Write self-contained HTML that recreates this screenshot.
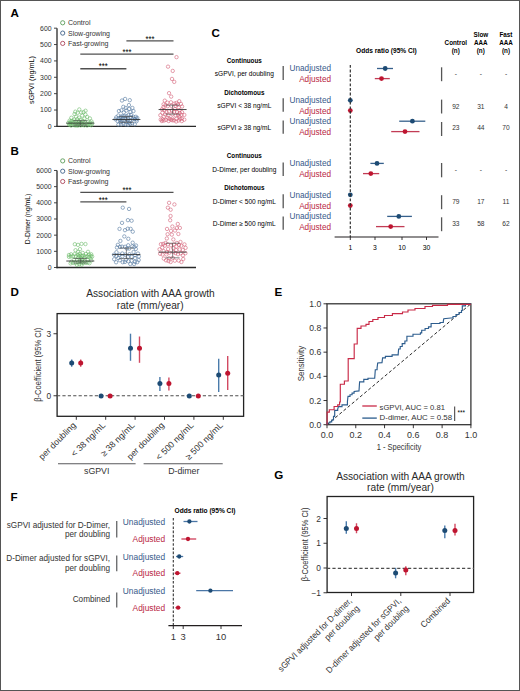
<!DOCTYPE html>
<html><head><meta charset="utf-8"><style>
html,body{margin:0;padding:0;background:#fff;width:520px;height:691px;overflow:hidden}
svg{display:block}
text{font-family:"Liberation Sans",sans-serif}
</style></head><body>
<svg width="520" height="691" viewBox="0 0 520 691">
<rect x="0.5" y="0.5" width="519" height="690" fill="none" stroke="#555" stroke-width="1"/>
<text x="10.60" y="16.70" font-size="11.6" text-anchor="start" font-weight="bold" fill="#000">A</text>
<line x1="57.00" y1="28.18" x2="57.00" y2="127.10" stroke="#383838" stroke-width="1.4"/>
<line x1="56.30" y1="126.40" x2="196.00" y2="126.40" stroke="#2a2a2a" stroke-width="1.4"/>
<line x1="54.00" y1="126.40" x2="57.00" y2="126.40" stroke="#333" stroke-width="0.9"/>
<text x="51.60" y="128.80" font-size="6.9" text-anchor="end" fill="#333">0</text>
<line x1="54.00" y1="110.03" x2="57.00" y2="110.03" stroke="#333" stroke-width="0.9"/>
<text x="51.60" y="112.43" font-size="6.9" text-anchor="end" fill="#333">100</text>
<line x1="54.00" y1="93.66" x2="57.00" y2="93.66" stroke="#333" stroke-width="0.9"/>
<text x="51.60" y="96.06" font-size="6.9" text-anchor="end" fill="#333">200</text>
<line x1="54.00" y1="77.29" x2="57.00" y2="77.29" stroke="#333" stroke-width="0.9"/>
<text x="51.60" y="79.69" font-size="6.9" text-anchor="end" fill="#333">300</text>
<line x1="54.00" y1="60.92" x2="57.00" y2="60.92" stroke="#333" stroke-width="0.9"/>
<text x="51.60" y="63.32" font-size="6.9" text-anchor="end" fill="#333">400</text>
<line x1="54.00" y1="44.55" x2="57.00" y2="44.55" stroke="#333" stroke-width="0.9"/>
<text x="51.60" y="46.95" font-size="6.9" text-anchor="end" fill="#333">500</text>
<line x1="54.00" y1="28.18" x2="57.00" y2="28.18" stroke="#333" stroke-width="0.9"/>
<text x="51.60" y="30.58" font-size="6.9" text-anchor="end" fill="#333">600</text>
<text x="34.00" y="80.00" font-size="7.3" text-anchor="middle" transform="rotate(-90 34.00 80.00)" textLength="48" lengthAdjust="spacingAndGlyphs">sGPVI (ng/mL)</text>
<circle cx="62.70" cy="22.80" r="2.1" fill="none" stroke="#62a060" stroke-width="0.95"/>
<text x="68.00" y="25.20" font-size="7.0" text-anchor="start" fill="#333">Control</text>
<circle cx="62.70" cy="33.10" r="2.1" fill="none" stroke="#47678e" stroke-width="0.95"/>
<text x="68.00" y="35.50" font-size="7.0" text-anchor="start" fill="#333">Slow-growing</text>
<circle cx="62.70" cy="43.40" r="2.1" fill="none" stroke="#b04e62" stroke-width="0.95"/>
<text x="68.00" y="45.80" font-size="7.0" text-anchor="start" fill="#333">Fast-growing</text>
<line x1="126.40" y1="40.90" x2="173.50" y2="40.90" stroke="#505050" stroke-width="1.4"/>
<text x="149.95" y="41.50" font-size="8.2" text-anchor="middle" textLength="9.0" lengthAdjust="spacingAndGlyphs">***</text>
<line x1="80.30" y1="54.10" x2="173.50" y2="54.10" stroke="#505050" stroke-width="1.4"/>
<text x="126.90" y="54.70" font-size="8.2" text-anchor="middle" textLength="9.0" lengthAdjust="spacingAndGlyphs">***</text>
<line x1="80.30" y1="68.80" x2="126.40" y2="68.80" stroke="#505050" stroke-width="1.4"/>
<text x="103.35" y="69.40" font-size="8.2" text-anchor="middle" textLength="9.0" lengthAdjust="spacingAndGlyphs">***</text>
<circle cx="80.58" cy="119.63" r="1.7" fill="none" stroke="#6cbb69" stroke-width="0.6"/>
<circle cx="69.58" cy="120.67" r="1.7" fill="none" stroke="#6cbb69" stroke-width="0.6"/>
<circle cx="81.15" cy="112.43" r="1.7" fill="none" stroke="#6cbb69" stroke-width="0.6"/>
<circle cx="74.51" cy="114.07" r="1.7" fill="none" stroke="#6cbb69" stroke-width="0.6"/>
<circle cx="75.34" cy="123.60" r="1.7" fill="none" stroke="#6cbb69" stroke-width="0.6"/>
<circle cx="71.10" cy="125.62" r="1.7" fill="none" stroke="#6cbb69" stroke-width="0.6"/>
<circle cx="84.31" cy="125.35" r="1.7" fill="none" stroke="#6cbb69" stroke-width="0.6"/>
<circle cx="74.17" cy="119.55" r="1.7" fill="none" stroke="#6cbb69" stroke-width="0.6"/>
<circle cx="85.54" cy="110.75" r="1.7" fill="none" stroke="#6cbb69" stroke-width="0.6"/>
<circle cx="89.83" cy="124.80" r="1.7" fill="none" stroke="#6cbb69" stroke-width="0.6"/>
<circle cx="84.45" cy="118.62" r="1.7" fill="none" stroke="#6cbb69" stroke-width="0.6"/>
<circle cx="89.88" cy="118.40" r="1.7" fill="none" stroke="#6cbb69" stroke-width="0.6"/>
<circle cx="78.94" cy="124.19" r="1.7" fill="none" stroke="#6cbb69" stroke-width="0.6"/>
<circle cx="88.14" cy="121.79" r="1.7" fill="none" stroke="#6cbb69" stroke-width="0.6"/>
<circle cx="91.53" cy="121.47" r="1.7" fill="none" stroke="#6cbb69" stroke-width="0.6"/>
<circle cx="77.30" cy="119.30" r="1.7" fill="none" stroke="#6cbb69" stroke-width="0.6"/>
<circle cx="81.82" cy="123.68" r="1.7" fill="none" stroke="#6cbb69" stroke-width="0.6"/>
<circle cx="87.13" cy="125.55" r="1.7" fill="none" stroke="#6cbb69" stroke-width="0.6"/>
<circle cx="72.31" cy="123.04" r="1.7" fill="none" stroke="#6cbb69" stroke-width="0.6"/>
<circle cx="73.48" cy="124.96" r="1.7" fill="none" stroke="#6cbb69" stroke-width="0.6"/>
<circle cx="71.34" cy="117.76" r="1.7" fill="none" stroke="#6cbb69" stroke-width="0.6"/>
<circle cx="87.19" cy="116.96" r="1.7" fill="none" stroke="#6cbb69" stroke-width="0.6"/>
<circle cx="84.70" cy="122.00" r="1.7" fill="none" stroke="#6cbb69" stroke-width="0.6"/>
<circle cx="77.69" cy="112.76" r="1.7" fill="none" stroke="#6cbb69" stroke-width="0.6"/>
<circle cx="76.73" cy="125.43" r="1.7" fill="none" stroke="#6cbb69" stroke-width="0.6"/>
<circle cx="69.08" cy="124.75" r="1.7" fill="none" stroke="#6cbb69" stroke-width="0.6"/>
<circle cx="83.51" cy="112.12" r="1.7" fill="none" stroke="#6cbb69" stroke-width="0.6"/>
<circle cx="78.76" cy="121.08" r="1.7" fill="none" stroke="#6cbb69" stroke-width="0.6"/>
<circle cx="92.15" cy="123.54" r="1.7" fill="none" stroke="#6cbb69" stroke-width="0.6"/>
<circle cx="86.46" cy="123.42" r="1.7" fill="none" stroke="#6cbb69" stroke-width="0.6"/>
<circle cx="77.18" cy="123.49" r="1.7" fill="none" stroke="#6cbb69" stroke-width="0.6"/>
<circle cx="80.64" cy="125.37" r="1.7" fill="none" stroke="#6cbb69" stroke-width="0.6"/>
<circle cx="75.30" cy="111.69" r="1.7" fill="none" stroke="#6cbb69" stroke-width="0.6"/>
<circle cx="82.80" cy="125.00" r="1.7" fill="none" stroke="#6cbb69" stroke-width="0.6"/>
<circle cx="82.79" cy="120.90" r="1.7" fill="none" stroke="#6cbb69" stroke-width="0.6"/>
<circle cx="75.07" cy="125.45" r="1.7" fill="none" stroke="#6cbb69" stroke-width="0.6"/>
<circle cx="70.22" cy="123.10" r="1.7" fill="none" stroke="#6cbb69" stroke-width="0.6"/>
<circle cx="90.01" cy="122.57" r="1.7" fill="none" stroke="#6cbb69" stroke-width="0.6"/>
<circle cx="68.40" cy="122.86" r="1.7" fill="none" stroke="#6cbb69" stroke-width="0.6"/>
<circle cx="79.27" cy="109.46" r="1.7" fill="none" stroke="#6cbb69" stroke-width="0.6"/>
<circle cx="78.14" cy="125.46" r="1.7" fill="none" stroke="#6cbb69" stroke-width="0.6"/>
<circle cx="85.41" cy="114.56" r="1.7" fill="none" stroke="#6cbb69" stroke-width="0.6"/>
<circle cx="75.99" cy="121.40" r="1.7" fill="none" stroke="#6cbb69" stroke-width="0.6"/>
<circle cx="80.44" cy="122.42" r="1.7" fill="none" stroke="#6cbb69" stroke-width="0.6"/>
<circle cx="71.92" cy="120.99" r="1.7" fill="none" stroke="#6cbb69" stroke-width="0.6"/>
<circle cx="82.21" cy="115.56" r="1.7" fill="none" stroke="#6cbb69" stroke-width="0.6"/>
<circle cx="91.26" cy="125.21" r="1.7" fill="none" stroke="#6cbb69" stroke-width="0.6"/>
<circle cx="83.18" cy="122.64" r="1.7" fill="none" stroke="#6cbb69" stroke-width="0.6"/>
<circle cx="78.55" cy="122.62" r="1.7" fill="none" stroke="#6cbb69" stroke-width="0.6"/>
<circle cx="73.66" cy="121.69" r="1.7" fill="none" stroke="#6cbb69" stroke-width="0.6"/>
<circle cx="79.22" cy="117.57" r="1.7" fill="none" stroke="#6cbb69" stroke-width="0.6"/>
<circle cx="70.71" cy="121.43" r="1.7" fill="none" stroke="#6cbb69" stroke-width="0.6"/>
<circle cx="75.98" cy="116.64" r="1.7" fill="none" stroke="#6cbb69" stroke-width="0.6"/>
<circle cx="88.32" cy="124.32" r="1.7" fill="none" stroke="#6cbb69" stroke-width="0.6"/>
<circle cx="70.35" cy="124.52" r="1.7" fill="none" stroke="#6cbb69" stroke-width="0.6"/>
<circle cx="126.36" cy="121.91" r="1.7" fill="none" stroke="#52779f" stroke-width="0.6"/>
<circle cx="132.66" cy="119.20" r="1.7" fill="none" stroke="#52779f" stroke-width="0.6"/>
<circle cx="123.29" cy="106.84" r="1.7" fill="none" stroke="#52779f" stroke-width="0.6"/>
<circle cx="132.22" cy="123.38" r="1.7" fill="none" stroke="#52779f" stroke-width="0.6"/>
<circle cx="121.00" cy="116.57" r="1.7" fill="none" stroke="#52779f" stroke-width="0.6"/>
<circle cx="117.67" cy="121.12" r="1.7" fill="none" stroke="#52779f" stroke-width="0.6"/>
<circle cx="127.80" cy="118.31" r="1.7" fill="none" stroke="#52779f" stroke-width="0.6"/>
<circle cx="136.66" cy="121.17" r="1.7" fill="none" stroke="#52779f" stroke-width="0.6"/>
<circle cx="123.46" cy="123.78" r="1.7" fill="none" stroke="#52779f" stroke-width="0.6"/>
<circle cx="120.70" cy="122.20" r="1.7" fill="none" stroke="#52779f" stroke-width="0.6"/>
<circle cx="124.52" cy="116.12" r="1.7" fill="none" stroke="#52779f" stroke-width="0.6"/>
<circle cx="121.43" cy="110.29" r="1.7" fill="none" stroke="#52779f" stroke-width="0.6"/>
<circle cx="116.25" cy="117.33" r="1.7" fill="none" stroke="#52779f" stroke-width="0.6"/>
<circle cx="130.40" cy="112.00" r="1.7" fill="none" stroke="#52779f" stroke-width="0.6"/>
<circle cx="135.89" cy="116.78" r="1.7" fill="none" stroke="#52779f" stroke-width="0.6"/>
<circle cx="126.32" cy="110.55" r="1.7" fill="none" stroke="#52779f" stroke-width="0.6"/>
<circle cx="118.67" cy="118.30" r="1.7" fill="none" stroke="#52779f" stroke-width="0.6"/>
<circle cx="123.08" cy="118.35" r="1.7" fill="none" stroke="#52779f" stroke-width="0.6"/>
<circle cx="125.13" cy="98.95" r="1.7" fill="none" stroke="#52779f" stroke-width="0.6"/>
<circle cx="130.87" cy="117.29" r="1.7" fill="none" stroke="#52779f" stroke-width="0.6"/>
<circle cx="128.08" cy="124.86" r="1.7" fill="none" stroke="#52779f" stroke-width="0.6"/>
<circle cx="129.97" cy="120.46" r="1.7" fill="none" stroke="#52779f" stroke-width="0.6"/>
<circle cx="128.46" cy="115.01" r="1.7" fill="none" stroke="#52779f" stroke-width="0.6"/>
<circle cx="134.97" cy="119.06" r="1.7" fill="none" stroke="#52779f" stroke-width="0.6"/>
<circle cx="125.43" cy="118.52" r="1.7" fill="none" stroke="#52779f" stroke-width="0.6"/>
<circle cx="129.77" cy="100.18" r="1.7" fill="none" stroke="#52779f" stroke-width="0.6"/>
<circle cx="115.48" cy="119.27" r="1.7" fill="none" stroke="#52779f" stroke-width="0.6"/>
<circle cx="133.30" cy="116.75" r="1.7" fill="none" stroke="#52779f" stroke-width="0.6"/>
<circle cx="118.37" cy="124.69" r="1.7" fill="none" stroke="#52779f" stroke-width="0.6"/>
<circle cx="122.06" cy="120.40" r="1.7" fill="none" stroke="#52779f" stroke-width="0.6"/>
<circle cx="121.98" cy="100.51" r="1.7" fill="none" stroke="#52779f" stroke-width="0.6"/>
<circle cx="118.36" cy="115.50" r="1.7" fill="none" stroke="#52779f" stroke-width="0.6"/>
<circle cx="133.46" cy="111.07" r="1.7" fill="none" stroke="#52779f" stroke-width="0.6"/>
<circle cx="134.77" cy="124.27" r="1.7" fill="none" stroke="#52779f" stroke-width="0.6"/>
<circle cx="119.83" cy="120.13" r="1.7" fill="none" stroke="#52779f" stroke-width="0.6"/>
<circle cx="129.20" cy="108.95" r="1.7" fill="none" stroke="#52779f" stroke-width="0.6"/>
<circle cx="132.40" cy="107.95" r="1.7" fill="none" stroke="#52779f" stroke-width="0.6"/>
<circle cx="137.26" cy="117.97" r="1.7" fill="none" stroke="#52779f" stroke-width="0.6"/>
<circle cx="126.70" cy="116.25" r="1.7" fill="none" stroke="#52779f" stroke-width="0.6"/>
<circle cx="136.63" cy="119.51" r="1.7" fill="none" stroke="#52779f" stroke-width="0.6"/>
<circle cx="125.69" cy="108.01" r="1.7" fill="none" stroke="#52779f" stroke-width="0.6"/>
<circle cx="128.94" cy="105.10" r="1.7" fill="none" stroke="#52779f" stroke-width="0.6"/>
<circle cx="118.90" cy="111.04" r="1.7" fill="none" stroke="#52779f" stroke-width="0.6"/>
<circle cx="123.78" cy="112.42" r="1.7" fill="none" stroke="#52779f" stroke-width="0.6"/>
<circle cx="121.17" cy="124.49" r="1.7" fill="none" stroke="#52779f" stroke-width="0.6"/>
<circle cx="120.40" cy="118.03" r="1.7" fill="none" stroke="#52779f" stroke-width="0.6"/>
<circle cx="122.72" cy="116.20" r="1.7" fill="none" stroke="#52779f" stroke-width="0.6"/>
<circle cx="129.06" cy="122.58" r="1.7" fill="none" stroke="#52779f" stroke-width="0.6"/>
<circle cx="125.60" cy="124.47" r="1.7" fill="none" stroke="#52779f" stroke-width="0.6"/>
<circle cx="131.10" cy="114.87" r="1.7" fill="none" stroke="#52779f" stroke-width="0.6"/>
<circle cx="127.92" cy="120.28" r="1.7" fill="none" stroke="#52779f" stroke-width="0.6"/>
<circle cx="130.12" cy="123.90" r="1.7" fill="none" stroke="#52779f" stroke-width="0.6"/>
<circle cx="124.04" cy="120.53" r="1.7" fill="none" stroke="#52779f" stroke-width="0.6"/>
<circle cx="172.36" cy="114.30" r="1.7" fill="none" stroke="#d35e76" stroke-width="0.6"/>
<circle cx="171.36" cy="105.74" r="1.7" fill="none" stroke="#d35e76" stroke-width="0.6"/>
<circle cx="162.58" cy="119.28" r="1.7" fill="none" stroke="#d35e76" stroke-width="0.6"/>
<circle cx="173.89" cy="120.37" r="1.7" fill="none" stroke="#d35e76" stroke-width="0.6"/>
<circle cx="167.76" cy="106.20" r="1.7" fill="none" stroke="#d35e76" stroke-width="0.6"/>
<circle cx="184.31" cy="119.66" r="1.7" fill="none" stroke="#d35e76" stroke-width="0.6"/>
<circle cx="184.32" cy="114.94" r="1.7" fill="none" stroke="#d35e76" stroke-width="0.6"/>
<circle cx="165.20" cy="114.42" r="1.7" fill="none" stroke="#d35e76" stroke-width="0.6"/>
<circle cx="171.98" cy="78.93" r="1.7" fill="none" stroke="#d35e76" stroke-width="0.6"/>
<circle cx="171.18" cy="96.61" r="1.7" fill="none" stroke="#d35e76" stroke-width="0.6"/>
<circle cx="175.79" cy="115.37" r="1.7" fill="none" stroke="#d35e76" stroke-width="0.6"/>
<circle cx="174.99" cy="109.06" r="1.7" fill="none" stroke="#d35e76" stroke-width="0.6"/>
<circle cx="178.61" cy="120.52" r="1.7" fill="none" stroke="#d35e76" stroke-width="0.6"/>
<circle cx="167.60" cy="117.73" r="1.7" fill="none" stroke="#d35e76" stroke-width="0.6"/>
<circle cx="168.62" cy="121.00" r="1.7" fill="none" stroke="#d35e76" stroke-width="0.6"/>
<circle cx="165.81" cy="119.94" r="1.7" fill="none" stroke="#d35e76" stroke-width="0.6"/>
<circle cx="176.50" cy="57.15" r="1.7" fill="none" stroke="#d35e76" stroke-width="0.6"/>
<circle cx="179.51" cy="116.95" r="1.7" fill="none" stroke="#d35e76" stroke-width="0.6"/>
<circle cx="181.96" cy="112.21" r="1.7" fill="none" stroke="#d35e76" stroke-width="0.6"/>
<circle cx="174.42" cy="103.61" r="1.7" fill="none" stroke="#d35e76" stroke-width="0.6"/>
<circle cx="182.07" cy="106.56" r="1.7" fill="none" stroke="#d35e76" stroke-width="0.6"/>
<circle cx="163.58" cy="104.33" r="1.7" fill="none" stroke="#d35e76" stroke-width="0.6"/>
<circle cx="170.95" cy="119.65" r="1.7" fill="none" stroke="#d35e76" stroke-width="0.6"/>
<circle cx="178.78" cy="107.44" r="1.7" fill="none" stroke="#d35e76" stroke-width="0.6"/>
<circle cx="176.45" cy="118.77" r="1.7" fill="none" stroke="#d35e76" stroke-width="0.6"/>
<circle cx="177.73" cy="104.36" r="1.7" fill="none" stroke="#d35e76" stroke-width="0.6"/>
<circle cx="181.80" cy="121.07" r="1.7" fill="none" stroke="#d35e76" stroke-width="0.6"/>
<circle cx="162.03" cy="109.31" r="1.7" fill="none" stroke="#d35e76" stroke-width="0.6"/>
<circle cx="180.94" cy="103.87" r="1.7" fill="none" stroke="#d35e76" stroke-width="0.6"/>
<circle cx="170.96" cy="102.28" r="1.7" fill="none" stroke="#d35e76" stroke-width="0.6"/>
<circle cx="181.73" cy="118.58" r="1.7" fill="none" stroke="#d35e76" stroke-width="0.6"/>
<circle cx="175.59" cy="105.74" r="1.7" fill="none" stroke="#d35e76" stroke-width="0.6"/>
<circle cx="160.74" cy="119.62" r="1.7" fill="none" stroke="#d35e76" stroke-width="0.6"/>
<circle cx="167.32" cy="102.63" r="1.7" fill="none" stroke="#d35e76" stroke-width="0.6"/>
<circle cx="172.48" cy="118.57" r="1.7" fill="none" stroke="#d35e76" stroke-width="0.6"/>
<circle cx="169.13" cy="111.29" r="1.7" fill="none" stroke="#d35e76" stroke-width="0.6"/>
<circle cx="176.20" cy="121.48" r="1.7" fill="none" stroke="#d35e76" stroke-width="0.6"/>
<circle cx="160.36" cy="115.23" r="1.7" fill="none" stroke="#d35e76" stroke-width="0.6"/>
<circle cx="176.35" cy="102.94" r="1.7" fill="none" stroke="#d35e76" stroke-width="0.6"/>
<circle cx="172.30" cy="120.28" r="1.7" fill="none" stroke="#d35e76" stroke-width="0.6"/>
<circle cx="165.47" cy="105.29" r="1.7" fill="none" stroke="#d35e76" stroke-width="0.6"/>
<circle cx="177.01" cy="111.98" r="1.7" fill="none" stroke="#d35e76" stroke-width="0.6"/>
<circle cx="162.36" cy="112.78" r="1.7" fill="none" stroke="#d35e76" stroke-width="0.6"/>
<circle cx="163.97" cy="120.54" r="1.7" fill="none" stroke="#d35e76" stroke-width="0.6"/>
<circle cx="168.38" cy="115.32" r="1.7" fill="none" stroke="#d35e76" stroke-width="0.6"/>
<circle cx="163.43" cy="107.12" r="1.7" fill="none" stroke="#d35e76" stroke-width="0.6"/>
<circle cx="174.24" cy="81.87" r="1.7" fill="none" stroke="#d35e76" stroke-width="0.6"/>
<circle cx="161.87" cy="121.03" r="1.7" fill="none" stroke="#d35e76" stroke-width="0.6"/>
<circle cx="166.40" cy="111.98" r="1.7" fill="none" stroke="#d35e76" stroke-width="0.6"/>
<circle cx="181.42" cy="114.84" r="1.7" fill="none" stroke="#d35e76" stroke-width="0.6"/>
<circle cx="169.25" cy="118.81" r="1.7" fill="none" stroke="#d35e76" stroke-width="0.6"/>
<circle cx="178.11" cy="114.93" r="1.7" fill="none" stroke="#d35e76" stroke-width="0.6"/>
<circle cx="171.90" cy="110.43" r="1.7" fill="none" stroke="#d35e76" stroke-width="0.6"/>
<circle cx="174.25" cy="111.71" r="1.7" fill="none" stroke="#d35e76" stroke-width="0.6"/>
<circle cx="179.23" cy="101.20" r="1.7" fill="none" stroke="#d35e76" stroke-width="0.6"/>
<circle cx="172.74" cy="70.91" r="1.7" fill="none" stroke="#d35e76" stroke-width="0.6"/>
<circle cx="163.88" cy="116.72" r="1.7" fill="none" stroke="#d35e76" stroke-width="0.6"/>
<circle cx="168.03" cy="66.65" r="1.7" fill="none" stroke="#d35e76" stroke-width="0.6"/>
<circle cx="180.00" cy="118.85" r="1.7" fill="none" stroke="#d35e76" stroke-width="0.6"/>
<circle cx="169.03" cy="93.17" r="1.7" fill="none" stroke="#d35e76" stroke-width="0.6"/>
<circle cx="179.45" cy="110.37" r="1.7" fill="none" stroke="#d35e76" stroke-width="0.6"/>
<circle cx="164.78" cy="100.66" r="1.7" fill="none" stroke="#d35e76" stroke-width="0.6"/>
<circle cx="179.74" cy="113.10" r="1.7" fill="none" stroke="#d35e76" stroke-width="0.6"/>
<circle cx="164.48" cy="110.07" r="1.7" fill="none" stroke="#d35e76" stroke-width="0.6"/>
<line x1="66.30" y1="123.13" x2="94.30" y2="123.13" stroke="#2a2a2a" stroke-width="0.85"/>
<line x1="80.30" y1="125.09" x2="80.30" y2="120.67" stroke="#444" stroke-width="0.6"/>
<line x1="73.30" y1="125.09" x2="87.30" y2="125.09" stroke="#444" stroke-width="0.65"/>
<line x1="73.30" y1="120.67" x2="87.30" y2="120.67" stroke="#444" stroke-width="0.65"/>
<line x1="112.40" y1="119.52" x2="140.40" y2="119.52" stroke="#2a2a2a" stroke-width="0.85"/>
<line x1="126.40" y1="122.31" x2="126.40" y2="116.58" stroke="#444" stroke-width="0.6"/>
<line x1="119.40" y1="122.31" x2="133.40" y2="122.31" stroke="#444" stroke-width="0.65"/>
<line x1="119.40" y1="116.58" x2="133.40" y2="116.58" stroke="#444" stroke-width="0.65"/>
<line x1="158.60" y1="109.54" x2="186.60" y2="109.54" stroke="#2a2a2a" stroke-width="0.85"/>
<line x1="172.60" y1="114.12" x2="172.60" y2="105.12" stroke="#444" stroke-width="0.6"/>
<line x1="165.60" y1="114.12" x2="179.60" y2="114.12" stroke="#444" stroke-width="0.65"/>
<line x1="165.60" y1="105.12" x2="179.60" y2="105.12" stroke="#444" stroke-width="0.65"/>
<text x="10.60" y="154.80" font-size="11.6" text-anchor="start" font-weight="bold" fill="#000">B</text>
<line x1="57.00" y1="170.48" x2="57.00" y2="268.20" stroke="#383838" stroke-width="1.4"/>
<line x1="56.30" y1="267.50" x2="196.00" y2="267.50" stroke="#2a2a2a" stroke-width="1.4"/>
<line x1="54.00" y1="267.50" x2="57.00" y2="267.50" stroke="#333" stroke-width="0.9"/>
<text x="51.60" y="269.90" font-size="6.9" text-anchor="end" fill="#333">0</text>
<line x1="54.00" y1="251.33" x2="57.00" y2="251.33" stroke="#333" stroke-width="0.9"/>
<text x="51.60" y="253.73" font-size="6.9" text-anchor="end" fill="#333">1000</text>
<line x1="54.00" y1="235.16" x2="57.00" y2="235.16" stroke="#333" stroke-width="0.9"/>
<text x="51.60" y="237.56" font-size="6.9" text-anchor="end" fill="#333">2000</text>
<line x1="54.00" y1="218.99" x2="57.00" y2="218.99" stroke="#333" stroke-width="0.9"/>
<text x="51.60" y="221.39" font-size="6.9" text-anchor="end" fill="#333">3000</text>
<line x1="54.00" y1="202.82" x2="57.00" y2="202.82" stroke="#333" stroke-width="0.9"/>
<text x="51.60" y="205.22" font-size="6.9" text-anchor="end" fill="#333">4000</text>
<line x1="54.00" y1="186.65" x2="57.00" y2="186.65" stroke="#333" stroke-width="0.9"/>
<text x="51.60" y="189.05" font-size="6.9" text-anchor="end" fill="#333">5000</text>
<line x1="54.00" y1="170.48" x2="57.00" y2="170.48" stroke="#333" stroke-width="0.9"/>
<text x="51.60" y="172.88" font-size="6.9" text-anchor="end" fill="#333">6000</text>
<text x="29.50" y="219.00" font-size="6.8" text-anchor="middle" transform="rotate(-90 29.50 219.00)" textLength="50.4" lengthAdjust="spacingAndGlyphs">D-Dimer (ng/mL)</text>
<circle cx="62.70" cy="160.90" r="2.1" fill="none" stroke="#62a060" stroke-width="0.95"/>
<text x="68.00" y="163.30" font-size="7.0" text-anchor="start" fill="#333">Control</text>
<circle cx="62.70" cy="171.20" r="2.1" fill="none" stroke="#47678e" stroke-width="0.95"/>
<text x="68.00" y="173.60" font-size="7.0" text-anchor="start" fill="#333">Slow-growing</text>
<circle cx="62.70" cy="181.50" r="2.1" fill="none" stroke="#b04e62" stroke-width="0.95"/>
<text x="68.00" y="183.90" font-size="7.0" text-anchor="start" fill="#333">Fast-growing</text>
<line x1="80.30" y1="192.40" x2="173.50" y2="192.40" stroke="#505050" stroke-width="1.4"/>
<text x="126.90" y="193.00" font-size="8.2" text-anchor="middle" textLength="9.0" lengthAdjust="spacingAndGlyphs">***</text>
<line x1="80.30" y1="201.90" x2="126.40" y2="201.90" stroke="#505050" stroke-width="1.4"/>
<text x="103.35" y="202.50" font-size="8.2" text-anchor="middle" textLength="9.0" lengthAdjust="spacingAndGlyphs">***</text>
<circle cx="80.47" cy="255.73" r="1.7" fill="none" stroke="#6cbb69" stroke-width="0.6"/>
<circle cx="71.33" cy="261.73" r="1.7" fill="none" stroke="#6cbb69" stroke-width="0.6"/>
<circle cx="84.33" cy="257.90" r="1.7" fill="none" stroke="#6cbb69" stroke-width="0.6"/>
<circle cx="71.12" cy="254.30" r="1.7" fill="none" stroke="#6cbb69" stroke-width="0.6"/>
<circle cx="75.54" cy="250.24" r="1.7" fill="none" stroke="#6cbb69" stroke-width="0.6"/>
<circle cx="86.10" cy="262.86" r="1.7" fill="none" stroke="#6cbb69" stroke-width="0.6"/>
<circle cx="75.50" cy="262.90" r="1.7" fill="none" stroke="#6cbb69" stroke-width="0.6"/>
<circle cx="90.73" cy="256.08" r="1.7" fill="none" stroke="#6cbb69" stroke-width="0.6"/>
<circle cx="75.80" cy="256.15" r="1.7" fill="none" stroke="#6cbb69" stroke-width="0.6"/>
<circle cx="81.55" cy="264.85" r="1.7" fill="none" stroke="#6cbb69" stroke-width="0.6"/>
<circle cx="68.95" cy="256.82" r="1.7" fill="none" stroke="#6cbb69" stroke-width="0.6"/>
<circle cx="87.25" cy="256.22" r="1.7" fill="none" stroke="#6cbb69" stroke-width="0.6"/>
<circle cx="82.75" cy="252.93" r="1.7" fill="none" stroke="#6cbb69" stroke-width="0.6"/>
<circle cx="79.98" cy="261.70" r="1.7" fill="none" stroke="#6cbb69" stroke-width="0.6"/>
<circle cx="89.46" cy="263.18" r="1.7" fill="none" stroke="#6cbb69" stroke-width="0.6"/>
<circle cx="91.25" cy="260.40" r="1.7" fill="none" stroke="#6cbb69" stroke-width="0.6"/>
<circle cx="83.09" cy="255.58" r="1.7" fill="none" stroke="#6cbb69" stroke-width="0.6"/>
<circle cx="83.50" cy="262.93" r="1.7" fill="none" stroke="#6cbb69" stroke-width="0.6"/>
<circle cx="73.01" cy="256.21" r="1.7" fill="none" stroke="#6cbb69" stroke-width="0.6"/>
<circle cx="77.89" cy="254.87" r="1.7" fill="none" stroke="#6cbb69" stroke-width="0.6"/>
<circle cx="87.80" cy="260.05" r="1.7" fill="none" stroke="#6cbb69" stroke-width="0.6"/>
<circle cx="74.00" cy="259.59" r="1.7" fill="none" stroke="#6cbb69" stroke-width="0.6"/>
<circle cx="88.03" cy="251.81" r="1.7" fill="none" stroke="#6cbb69" stroke-width="0.6"/>
<circle cx="85.45" cy="244.05" r="1.7" fill="none" stroke="#6cbb69" stroke-width="0.6"/>
<circle cx="77.12" cy="260.03" r="1.7" fill="none" stroke="#6cbb69" stroke-width="0.6"/>
<circle cx="77.82" cy="262.29" r="1.7" fill="none" stroke="#6cbb69" stroke-width="0.6"/>
<circle cx="70.79" cy="256.47" r="1.7" fill="none" stroke="#6cbb69" stroke-width="0.6"/>
<circle cx="85.99" cy="253.94" r="1.7" fill="none" stroke="#6cbb69" stroke-width="0.6"/>
<circle cx="73.17" cy="262.86" r="1.7" fill="none" stroke="#6cbb69" stroke-width="0.6"/>
<circle cx="78.35" cy="257.52" r="1.7" fill="none" stroke="#6cbb69" stroke-width="0.6"/>
<circle cx="82.05" cy="259.41" r="1.7" fill="none" stroke="#6cbb69" stroke-width="0.6"/>
<circle cx="82.10" cy="261.45" r="1.7" fill="none" stroke="#6cbb69" stroke-width="0.6"/>
<circle cx="88.98" cy="254.54" r="1.7" fill="none" stroke="#6cbb69" stroke-width="0.6"/>
<circle cx="88.99" cy="256.95" r="1.7" fill="none" stroke="#6cbb69" stroke-width="0.6"/>
<circle cx="74.61" cy="254.11" r="1.7" fill="none" stroke="#6cbb69" stroke-width="0.6"/>
<circle cx="81.64" cy="263.10" r="1.7" fill="none" stroke="#6cbb69" stroke-width="0.6"/>
<circle cx="80.00" cy="249.16" r="1.7" fill="none" stroke="#6cbb69" stroke-width="0.6"/>
<circle cx="78.11" cy="251.84" r="1.7" fill="none" stroke="#6cbb69" stroke-width="0.6"/>
<circle cx="79.22" cy="264.32" r="1.7" fill="none" stroke="#6cbb69" stroke-width="0.6"/>
<circle cx="76.87" cy="264.84" r="1.7" fill="none" stroke="#6cbb69" stroke-width="0.6"/>
<circle cx="85.20" cy="256.43" r="1.7" fill="none" stroke="#6cbb69" stroke-width="0.6"/>
<circle cx="90.60" cy="258.34" r="1.7" fill="none" stroke="#6cbb69" stroke-width="0.6"/>
<circle cx="70.58" cy="263.37" r="1.7" fill="none" stroke="#6cbb69" stroke-width="0.6"/>
<circle cx="77.98" cy="244.86" r="1.7" fill="none" stroke="#6cbb69" stroke-width="0.6"/>
<circle cx="81.55" cy="243.89" r="1.7" fill="none" stroke="#6cbb69" stroke-width="0.6"/>
<circle cx="91.21" cy="254.31" r="1.7" fill="none" stroke="#6cbb69" stroke-width="0.6"/>
<circle cx="92.15" cy="256.56" r="1.7" fill="none" stroke="#6cbb69" stroke-width="0.6"/>
<circle cx="84.69" cy="261.34" r="1.7" fill="none" stroke="#6cbb69" stroke-width="0.6"/>
<circle cx="78.88" cy="256.00" r="1.7" fill="none" stroke="#6cbb69" stroke-width="0.6"/>
<circle cx="79.57" cy="253.90" r="1.7" fill="none" stroke="#6cbb69" stroke-width="0.6"/>
<circle cx="74.84" cy="244.22" r="1.7" fill="none" stroke="#6cbb69" stroke-width="0.6"/>
<circle cx="80.75" cy="257.99" r="1.7" fill="none" stroke="#6cbb69" stroke-width="0.6"/>
<circle cx="81.96" cy="256.35" r="1.7" fill="none" stroke="#6cbb69" stroke-width="0.6"/>
<circle cx="87.86" cy="262.51" r="1.7" fill="none" stroke="#6cbb69" stroke-width="0.6"/>
<circle cx="68.93" cy="254.99" r="1.7" fill="none" stroke="#6cbb69" stroke-width="0.6"/>
<circle cx="137.99" cy="253.54" r="1.7" fill="none" stroke="#52779f" stroke-width="0.6"/>
<circle cx="131.67" cy="256.81" r="1.7" fill="none" stroke="#52779f" stroke-width="0.6"/>
<circle cx="130.64" cy="228.86" r="1.7" fill="none" stroke="#52779f" stroke-width="0.6"/>
<circle cx="122.03" cy="222.87" r="1.7" fill="none" stroke="#52779f" stroke-width="0.6"/>
<circle cx="131.61" cy="220.70" r="1.7" fill="none" stroke="#52779f" stroke-width="0.6"/>
<circle cx="134.10" cy="264.09" r="1.7" fill="none" stroke="#52779f" stroke-width="0.6"/>
<circle cx="128.12" cy="256.78" r="1.7" fill="none" stroke="#52779f" stroke-width="0.6"/>
<circle cx="122.32" cy="256.40" r="1.7" fill="none" stroke="#52779f" stroke-width="0.6"/>
<circle cx="133.57" cy="252.04" r="1.7" fill="none" stroke="#52779f" stroke-width="0.6"/>
<circle cx="130.30" cy="264.02" r="1.7" fill="none" stroke="#52779f" stroke-width="0.6"/>
<circle cx="128.20" cy="245.28" r="1.7" fill="none" stroke="#52779f" stroke-width="0.6"/>
<circle cx="119.37" cy="254.68" r="1.7" fill="none" stroke="#52779f" stroke-width="0.6"/>
<circle cx="113.96" cy="254.74" r="1.7" fill="none" stroke="#52779f" stroke-width="0.6"/>
<circle cx="120.39" cy="240.94" r="1.7" fill="none" stroke="#52779f" stroke-width="0.6"/>
<circle cx="122.05" cy="246.61" r="1.7" fill="none" stroke="#52779f" stroke-width="0.6"/>
<circle cx="129.06" cy="208.96" r="1.7" fill="none" stroke="#52779f" stroke-width="0.6"/>
<circle cx="116.09" cy="262.26" r="1.7" fill="none" stroke="#52779f" stroke-width="0.6"/>
<circle cx="125.29" cy="254.58" r="1.7" fill="none" stroke="#52779f" stroke-width="0.6"/>
<circle cx="131.64" cy="260.76" r="1.7" fill="none" stroke="#52779f" stroke-width="0.6"/>
<circle cx="124.99" cy="230.16" r="1.7" fill="none" stroke="#52779f" stroke-width="0.6"/>
<circle cx="125.82" cy="259.87" r="1.7" fill="none" stroke="#52779f" stroke-width="0.6"/>
<circle cx="137.27" cy="262.19" r="1.7" fill="none" stroke="#52779f" stroke-width="0.6"/>
<circle cx="119.52" cy="228.89" r="1.7" fill="none" stroke="#52779f" stroke-width="0.6"/>
<circle cx="116.47" cy="252.19" r="1.7" fill="none" stroke="#52779f" stroke-width="0.6"/>
<circle cx="127.74" cy="228.72" r="1.7" fill="none" stroke="#52779f" stroke-width="0.6"/>
<circle cx="136.00" cy="245.48" r="1.7" fill="none" stroke="#52779f" stroke-width="0.6"/>
<circle cx="114.17" cy="259.24" r="1.7" fill="none" stroke="#52779f" stroke-width="0.6"/>
<circle cx="116.96" cy="247.58" r="1.7" fill="none" stroke="#52779f" stroke-width="0.6"/>
<circle cx="135.05" cy="255.18" r="1.7" fill="none" stroke="#52779f" stroke-width="0.6"/>
<circle cx="132.32" cy="246.27" r="1.7" fill="none" stroke="#52779f" stroke-width="0.6"/>
<circle cx="129.44" cy="254.24" r="1.7" fill="none" stroke="#52779f" stroke-width="0.6"/>
<circle cx="119.83" cy="260.22" r="1.7" fill="none" stroke="#52779f" stroke-width="0.6"/>
<circle cx="122.71" cy="262.19" r="1.7" fill="none" stroke="#52779f" stroke-width="0.6"/>
<circle cx="122.33" cy="253.48" r="1.7" fill="none" stroke="#52779f" stroke-width="0.6"/>
<circle cx="128.40" cy="261.27" r="1.7" fill="none" stroke="#52779f" stroke-width="0.6"/>
<circle cx="124.93" cy="261.93" r="1.7" fill="none" stroke="#52779f" stroke-width="0.6"/>
<circle cx="125.12" cy="246.77" r="1.7" fill="none" stroke="#52779f" stroke-width="0.6"/>
<circle cx="127.92" cy="220.15" r="1.7" fill="none" stroke="#52779f" stroke-width="0.6"/>
<circle cx="132.70" cy="242.67" r="1.7" fill="none" stroke="#52779f" stroke-width="0.6"/>
<circle cx="135.82" cy="248.95" r="1.7" fill="none" stroke="#52779f" stroke-width="0.6"/>
<circle cx="124.30" cy="236.44" r="1.7" fill="none" stroke="#52779f" stroke-width="0.6"/>
<circle cx="129.22" cy="248.54" r="1.7" fill="none" stroke="#52779f" stroke-width="0.6"/>
<circle cx="116.43" cy="256.04" r="1.7" fill="none" stroke="#52779f" stroke-width="0.6"/>
<circle cx="122.77" cy="207.67" r="1.7" fill="none" stroke="#52779f" stroke-width="0.6"/>
<circle cx="138.84" cy="256.52" r="1.7" fill="none" stroke="#52779f" stroke-width="0.6"/>
<circle cx="135.12" cy="258.14" r="1.7" fill="none" stroke="#52779f" stroke-width="0.6"/>
<circle cx="132.76" cy="231.68" r="1.7" fill="none" stroke="#52779f" stroke-width="0.6"/>
<circle cx="128.32" cy="238.78" r="1.7" fill="none" stroke="#52779f" stroke-width="0.6"/>
<circle cx="119.98" cy="246.88" r="1.7" fill="none" stroke="#52779f" stroke-width="0.6"/>
<circle cx="134.85" cy="261.84" r="1.7" fill="none" stroke="#52779f" stroke-width="0.6"/>
<circle cx="118.30" cy="258.08" r="1.7" fill="none" stroke="#52779f" stroke-width="0.6"/>
<circle cx="138.69" cy="260.01" r="1.7" fill="none" stroke="#52779f" stroke-width="0.6"/>
<circle cx="134.38" cy="246.89" r="1.7" fill="none" stroke="#52779f" stroke-width="0.6"/>
<circle cx="117.87" cy="244.82" r="1.7" fill="none" stroke="#52779f" stroke-width="0.6"/>
<circle cx="126.76" cy="248.53" r="1.7" fill="none" stroke="#52779f" stroke-width="0.6"/>
<circle cx="176.45" cy="246.48" r="1.7" fill="none" stroke="#d35e76" stroke-width="0.6"/>
<circle cx="159.58" cy="249.32" r="1.7" fill="none" stroke="#d35e76" stroke-width="0.6"/>
<circle cx="178.65" cy="260.57" r="1.7" fill="none" stroke="#d35e76" stroke-width="0.6"/>
<circle cx="170.64" cy="209.70" r="1.7" fill="none" stroke="#d35e76" stroke-width="0.6"/>
<circle cx="169.21" cy="258.21" r="1.7" fill="none" stroke="#d35e76" stroke-width="0.6"/>
<circle cx="164.90" cy="245.61" r="1.7" fill="none" stroke="#d35e76" stroke-width="0.6"/>
<circle cx="177.98" cy="254.31" r="1.7" fill="none" stroke="#d35e76" stroke-width="0.6"/>
<circle cx="170.99" cy="245.33" r="1.7" fill="none" stroke="#d35e76" stroke-width="0.6"/>
<circle cx="166.05" cy="260.34" r="1.7" fill="none" stroke="#d35e76" stroke-width="0.6"/>
<circle cx="167.89" cy="207.67" r="1.7" fill="none" stroke="#d35e76" stroke-width="0.6"/>
<circle cx="182.92" cy="255.41" r="1.7" fill="none" stroke="#d35e76" stroke-width="0.6"/>
<circle cx="160.93" cy="244.21" r="1.7" fill="none" stroke="#d35e76" stroke-width="0.6"/>
<circle cx="173.33" cy="252.15" r="1.7" fill="none" stroke="#d35e76" stroke-width="0.6"/>
<circle cx="170.66" cy="261.99" r="1.7" fill="none" stroke="#d35e76" stroke-width="0.6"/>
<circle cx="172.37" cy="226.53" r="1.7" fill="none" stroke="#d35e76" stroke-width="0.6"/>
<circle cx="181.26" cy="245.74" r="1.7" fill="none" stroke="#d35e76" stroke-width="0.6"/>
<circle cx="168.12" cy="248.98" r="1.7" fill="none" stroke="#d35e76" stroke-width="0.6"/>
<circle cx="174.85" cy="260.69" r="1.7" fill="none" stroke="#d35e76" stroke-width="0.6"/>
<circle cx="169.06" cy="202.82" r="1.7" fill="none" stroke="#d35e76" stroke-width="0.6"/>
<circle cx="166.84" cy="238.45" r="1.7" fill="none" stroke="#d35e76" stroke-width="0.6"/>
<circle cx="171.85" cy="234.64" r="1.7" fill="none" stroke="#d35e76" stroke-width="0.6"/>
<circle cx="169.40" cy="252.68" r="1.7" fill="none" stroke="#d35e76" stroke-width="0.6"/>
<circle cx="184.48" cy="244.39" r="1.7" fill="none" stroke="#d35e76" stroke-width="0.6"/>
<circle cx="167.89" cy="244.41" r="1.7" fill="none" stroke="#d35e76" stroke-width="0.6"/>
<circle cx="185.57" cy="247.85" r="1.7" fill="none" stroke="#d35e76" stroke-width="0.6"/>
<circle cx="167.60" cy="234.22" r="1.7" fill="none" stroke="#d35e76" stroke-width="0.6"/>
<circle cx="180.48" cy="241.98" r="1.7" fill="none" stroke="#d35e76" stroke-width="0.6"/>
<circle cx="167.01" cy="228.92" r="1.7" fill="none" stroke="#d35e76" stroke-width="0.6"/>
<circle cx="181.41" cy="261.98" r="1.7" fill="none" stroke="#d35e76" stroke-width="0.6"/>
<circle cx="182.81" cy="249.93" r="1.7" fill="none" stroke="#d35e76" stroke-width="0.6"/>
<circle cx="162.51" cy="254.52" r="1.7" fill="none" stroke="#d35e76" stroke-width="0.6"/>
<circle cx="166.36" cy="254.50" r="1.7" fill="none" stroke="#d35e76" stroke-width="0.6"/>
<circle cx="173.81" cy="244.43" r="1.7" fill="none" stroke="#d35e76" stroke-width="0.6"/>
<circle cx="185.44" cy="253.20" r="1.7" fill="none" stroke="#d35e76" stroke-width="0.6"/>
<circle cx="173.16" cy="248.10" r="1.7" fill="none" stroke="#d35e76" stroke-width="0.6"/>
<circle cx="174.40" cy="204.44" r="1.7" fill="none" stroke="#d35e76" stroke-width="0.6"/>
<circle cx="160.14" cy="253.80" r="1.7" fill="none" stroke="#d35e76" stroke-width="0.6"/>
<circle cx="176.85" cy="242.97" r="1.7" fill="none" stroke="#d35e76" stroke-width="0.6"/>
<circle cx="168.49" cy="261.00" r="1.7" fill="none" stroke="#d35e76" stroke-width="0.6"/>
<circle cx="179.01" cy="245.01" r="1.7" fill="none" stroke="#d35e76" stroke-width="0.6"/>
<circle cx="170.58" cy="216.00" r="1.7" fill="none" stroke="#d35e76" stroke-width="0.6"/>
<circle cx="179.87" cy="227.91" r="1.7" fill="none" stroke="#d35e76" stroke-width="0.6"/>
<circle cx="180.75" cy="253.24" r="1.7" fill="none" stroke="#d35e76" stroke-width="0.6"/>
<circle cx="163.58" cy="251.08" r="1.7" fill="none" stroke="#d35e76" stroke-width="0.6"/>
<circle cx="172.80" cy="257.86" r="1.7" fill="none" stroke="#d35e76" stroke-width="0.6"/>
<circle cx="183.25" cy="259.02" r="1.7" fill="none" stroke="#d35e76" stroke-width="0.6"/>
<circle cx="175.01" cy="230.55" r="1.7" fill="none" stroke="#d35e76" stroke-width="0.6"/>
<circle cx="171.01" cy="230.86" r="1.7" fill="none" stroke="#d35e76" stroke-width="0.6"/>
<circle cx="163.77" cy="258.59" r="1.7" fill="none" stroke="#d35e76" stroke-width="0.6"/>
<circle cx="178.35" cy="233.97" r="1.7" fill="none" stroke="#d35e76" stroke-width="0.6"/>
<circle cx="177.79" cy="223.97" r="1.7" fill="none" stroke="#d35e76" stroke-width="0.6"/>
<circle cx="173.35" cy="239.44" r="1.7" fill="none" stroke="#d35e76" stroke-width="0.6"/>
<circle cx="176.19" cy="250.11" r="1.7" fill="none" stroke="#d35e76" stroke-width="0.6"/>
<circle cx="176.80" cy="228.03" r="1.7" fill="none" stroke="#d35e76" stroke-width="0.6"/>
<circle cx="179.65" cy="249.46" r="1.7" fill="none" stroke="#d35e76" stroke-width="0.6"/>
<circle cx="175.46" cy="253.11" r="1.7" fill="none" stroke="#d35e76" stroke-width="0.6"/>
<circle cx="166.82" cy="252.10" r="1.7" fill="none" stroke="#d35e76" stroke-width="0.6"/>
<circle cx="162.26" cy="247.61" r="1.7" fill="none" stroke="#d35e76" stroke-width="0.6"/>
<circle cx="170.17" cy="220.27" r="1.7" fill="none" stroke="#d35e76" stroke-width="0.6"/>
<circle cx="163.14" cy="243.90" r="1.7" fill="none" stroke="#d35e76" stroke-width="0.6"/>
<circle cx="165.58" cy="242.94" r="1.7" fill="none" stroke="#d35e76" stroke-width="0.6"/>
<line x1="66.30" y1="261.03" x2="94.30" y2="261.03" stroke="#2a2a2a" stroke-width="0.85"/>
<line x1="80.30" y1="262.97" x2="80.30" y2="258.44" stroke="#444" stroke-width="0.6"/>
<line x1="73.30" y1="262.97" x2="87.30" y2="262.97" stroke="#444" stroke-width="0.65"/>
<line x1="73.30" y1="258.44" x2="87.30" y2="258.44" stroke="#444" stroke-width="0.65"/>
<line x1="112.40" y1="254.56" x2="140.40" y2="254.56" stroke="#2a2a2a" stroke-width="0.85"/>
<line x1="126.40" y1="258.61" x2="126.40" y2="248.10" stroke="#444" stroke-width="0.6"/>
<line x1="119.40" y1="258.61" x2="133.40" y2="258.61" stroke="#444" stroke-width="0.65"/>
<line x1="119.40" y1="248.10" x2="133.40" y2="248.10" stroke="#444" stroke-width="0.65"/>
<line x1="158.60" y1="252.14" x2="186.60" y2="252.14" stroke="#2a2a2a" stroke-width="0.85"/>
<line x1="172.60" y1="257.80" x2="172.60" y2="243.25" stroke="#444" stroke-width="0.6"/>
<line x1="165.60" y1="257.80" x2="179.60" y2="257.80" stroke="#444" stroke-width="0.65"/>
<line x1="165.60" y1="243.25" x2="179.60" y2="243.25" stroke="#444" stroke-width="0.65"/>
<text x="211.50" y="36.60" font-size="11.6" text-anchor="start" font-weight="bold" fill="#000">C</text>
<text x="356.00" y="53.20" font-size="6.6" text-anchor="start" font-weight="bold" fill="#000">Odds ratio (95% CI)</text>
<text x="455.80" y="45.00" font-size="6.3" text-anchor="middle" font-weight="bold" fill="#000">Control</text>
<text x="455.80" y="53.10" font-size="6.3" text-anchor="middle" font-weight="bold" fill="#000">(n)</text>
<text x="480.80" y="36.90" font-size="6.3" text-anchor="middle" font-weight="bold" fill="#000">Slow</text>
<text x="480.80" y="45.00" font-size="6.3" text-anchor="middle" font-weight="bold" fill="#000">AAA</text>
<text x="480.80" y="53.10" font-size="6.3" text-anchor="middle" font-weight="bold" fill="#000">(n)</text>
<text x="506.00" y="36.90" font-size="6.3" text-anchor="middle" font-weight="bold" fill="#000">Fast</text>
<text x="506.00" y="45.00" font-size="6.3" text-anchor="middle" font-weight="bold" fill="#000">AAA</text>
<text x="506.00" y="53.10" font-size="6.3" text-anchor="middle" font-weight="bold" fill="#000">(n)</text>
<text x="244.30" y="62.80" font-size="6.3" text-anchor="middle" font-weight="bold" fill="#000">Continuous</text>
<text x="244.30" y="75.60" font-size="6.6" text-anchor="middle">sGPVI, per doubling</text>
<line x1="283.20" y1="66.00" x2="283.20" y2="80.00" stroke="#555" stroke-width="1.3"/>
<text x="331.00" y="71.40" font-size="8.2" text-anchor="end" fill="#37598a">Unadjusted</text>
<text x="331.00" y="81.50" font-size="8.2" text-anchor="end" fill="#b9263f">Adjusted</text>
<line x1="377.00" y1="68.50" x2="393.00" y2="68.50" stroke="#36608c" stroke-width="1.3"/>
<circle cx="385.20" cy="68.50" r="2.4" fill="#1d4b74"/>
<line x1="374.80" y1="78.60" x2="389.80" y2="78.60" stroke="#c23c55" stroke-width="1.3"/>
<circle cx="381.50" cy="78.60" r="2.4" fill="#be1530"/>
<line x1="441.60" y1="67.30" x2="441.60" y2="81.20" stroke="#555" stroke-width="1.3"/>
<text x="455.80" y="75.90" font-size="6.6" text-anchor="middle" fill="#333">-</text>
<text x="480.80" y="75.90" font-size="6.6" text-anchor="middle" fill="#333">-</text>
<text x="506.00" y="75.90" font-size="6.6" text-anchor="middle" fill="#333">-</text>
<text x="244.30" y="94.70" font-size="6.3" text-anchor="middle" font-weight="bold" fill="#000">Dichotomous</text>
<text x="244.30" y="107.90" font-size="6.6" text-anchor="middle">sGPVI &lt; 38 ng/mL</text>
<line x1="283.20" y1="98.30" x2="283.20" y2="111.80" stroke="#555" stroke-width="1.3"/>
<text x="331.00" y="103.20" font-size="8.2" text-anchor="end" fill="#37598a">Unadjusted</text>
<text x="331.00" y="113.50" font-size="8.2" text-anchor="end" fill="#b9263f">Adjusted</text>
<circle cx="350.30" cy="100.30" r="2.4" fill="#1d4b74"/>
<circle cx="350.30" cy="110.60" r="2.4" fill="#be1530"/>
<line x1="441.60" y1="99.60" x2="441.60" y2="113.50" stroke="#555" stroke-width="1.3"/>
<text x="455.80" y="108.50" font-size="6.6" text-anchor="middle" fill="#333">92</text>
<text x="480.80" y="108.50" font-size="6.6" text-anchor="middle" fill="#333">31</text>
<text x="506.00" y="108.50" font-size="6.6" text-anchor="middle" fill="#333">4</text>
<text x="244.30" y="130.20" font-size="6.6" text-anchor="middle">sGPVI ≥ 38 ng/mL</text>
<line x1="283.20" y1="120.40" x2="283.20" y2="133.80" stroke="#555" stroke-width="1.3"/>
<text x="331.00" y="124.10" font-size="8.2" text-anchor="end" fill="#37598a">Unadjusted</text>
<text x="331.00" y="134.50" font-size="8.2" text-anchor="end" fill="#b9263f">Adjusted</text>
<line x1="399.20" y1="121.20" x2="425.30" y2="121.20" stroke="#36608c" stroke-width="1.3"/>
<circle cx="412.40" cy="121.20" r="2.4" fill="#1d4b74"/>
<line x1="391.20" y1="131.60" x2="419.50" y2="131.60" stroke="#c23c55" stroke-width="1.3"/>
<circle cx="405.00" cy="131.60" r="2.4" fill="#be1530"/>
<line x1="441.60" y1="122.00" x2="441.60" y2="136.00" stroke="#555" stroke-width="1.3"/>
<text x="455.80" y="130.20" font-size="6.6" text-anchor="middle" fill="#333">23</text>
<text x="480.80" y="130.20" font-size="6.6" text-anchor="middle" fill="#333">44</text>
<text x="506.00" y="130.20" font-size="6.6" text-anchor="middle" fill="#333">70</text>
<text x="244.30" y="158.10" font-size="6.3" text-anchor="middle" font-weight="bold" fill="#000">Continuous</text>
<text x="244.30" y="171.50" font-size="6.6" text-anchor="middle">D-Dimer, per doubling</text>
<line x1="283.20" y1="162.50" x2="283.20" y2="176.00" stroke="#555" stroke-width="1.3"/>
<text x="331.00" y="166.30" font-size="8.2" text-anchor="end" fill="#37598a">Unadjusted</text>
<text x="331.00" y="176.50" font-size="8.2" text-anchor="end" fill="#b9263f">Adjusted</text>
<line x1="370.40" y1="163.40" x2="383.80" y2="163.40" stroke="#36608c" stroke-width="1.3"/>
<circle cx="377.00" cy="163.40" r="2.4" fill="#1d4b74"/>
<line x1="363.00" y1="173.60" x2="379.20" y2="173.60" stroke="#c23c55" stroke-width="1.3"/>
<circle cx="370.80" cy="173.60" r="2.4" fill="#be1530"/>
<line x1="441.60" y1="163.00" x2="441.60" y2="177.30" stroke="#555" stroke-width="1.3"/>
<text x="455.80" y="171.50" font-size="6.6" text-anchor="middle" fill="#333">-</text>
<text x="480.80" y="171.50" font-size="6.6" text-anchor="middle" fill="#333">-</text>
<text x="506.00" y="171.50" font-size="6.6" text-anchor="middle" fill="#333">-</text>
<text x="244.30" y="189.80" font-size="6.3" text-anchor="middle" font-weight="bold" fill="#000">Dichotomous</text>
<text x="244.30" y="203.80" font-size="6.6" text-anchor="middle">D-Dimer &lt; 500 ng/mL</text>
<line x1="283.20" y1="194.30" x2="283.20" y2="208.30" stroke="#555" stroke-width="1.3"/>
<text x="331.00" y="197.70" font-size="8.2" text-anchor="end" fill="#37598a">Unadjusted</text>
<text x="331.00" y="208.50" font-size="8.2" text-anchor="end" fill="#b9263f">Adjusted</text>
<circle cx="350.30" cy="194.80" r="2.4" fill="#1d4b74"/>
<circle cx="350.30" cy="205.60" r="2.4" fill="#be1530"/>
<line x1="441.60" y1="195.20" x2="441.60" y2="209.20" stroke="#555" stroke-width="1.3"/>
<text x="455.80" y="204.20" font-size="6.6" text-anchor="middle" fill="#333">79</text>
<text x="480.80" y="204.20" font-size="6.6" text-anchor="middle" fill="#333">17</text>
<text x="506.00" y="204.20" font-size="6.6" text-anchor="middle" fill="#333">11</text>
<text x="244.30" y="225.90" font-size="6.6" text-anchor="middle">D-Dimer ≥ 500 ng/mL</text>
<line x1="283.20" y1="216.40" x2="283.20" y2="229.80" stroke="#555" stroke-width="1.3"/>
<text x="331.00" y="219.30" font-size="8.2" text-anchor="end" fill="#37598a">Unadjusted</text>
<text x="331.00" y="229.50" font-size="8.2" text-anchor="end" fill="#b9263f">Adjusted</text>
<line x1="387.20" y1="216.40" x2="411.90" y2="216.40" stroke="#36608c" stroke-width="1.3"/>
<circle cx="398.80" cy="216.40" r="2.4" fill="#1d4b74"/>
<line x1="376.00" y1="226.60" x2="404.50" y2="226.60" stroke="#c23c55" stroke-width="1.3"/>
<circle cx="390.70" cy="226.60" r="2.4" fill="#be1530"/>
<line x1="441.60" y1="217.30" x2="441.60" y2="231.20" stroke="#555" stroke-width="1.3"/>
<text x="455.80" y="226.30" font-size="6.6" text-anchor="middle" fill="#333">33</text>
<text x="480.80" y="226.30" font-size="6.6" text-anchor="middle" fill="#333">58</text>
<text x="506.00" y="226.30" font-size="6.6" text-anchor="middle" fill="#333">62</text>
<line x1="350.30" y1="65.00" x2="350.30" y2="237.00" stroke="#2a2a2a" stroke-width="1.15" stroke-dasharray="2.8,1.8"/>
<line x1="334.60" y1="237.00" x2="438.50" y2="237.00" stroke="#231f20" stroke-width="1.1"/>
<line x1="350.30" y1="237.00" x2="350.30" y2="240.00" stroke="#231f20" stroke-width="0.9"/>
<text x="350.30" y="250.20" font-size="6.8" text-anchor="middle">1</text>
<line x1="375.00" y1="237.00" x2="375.00" y2="240.00" stroke="#231f20" stroke-width="0.9"/>
<text x="375.00" y="250.20" font-size="6.8" text-anchor="middle">3</text>
<line x1="402.00" y1="237.00" x2="402.00" y2="240.00" stroke="#231f20" stroke-width="0.9"/>
<text x="402.00" y="250.20" font-size="6.8" text-anchor="middle">10</text>
<line x1="426.50" y1="237.00" x2="426.50" y2="240.00" stroke="#231f20" stroke-width="0.9"/>
<text x="426.50" y="250.20" font-size="6.8" text-anchor="middle">30</text>
<text x="10.60" y="295.90" font-size="11.6" text-anchor="start" font-weight="bold" fill="#000">D</text>
<text x="150.50" y="296.60" font-size="10.2" text-anchor="middle" fill="#2a2a2a">Association with AAA growth</text>
<text x="150.20" y="308.60" font-size="10.2" text-anchor="middle" fill="#2a2a2a">rate (mm/year)</text>
<rect x="57.1" y="313.6" width="186.5" height="102.7" fill="none" stroke="#222" stroke-width="1.3"/>
<line x1="53.50" y1="333.74" x2="57.00" y2="333.74" stroke="#231f20" stroke-width="0.9"/>
<text x="51.20" y="336.74" font-size="8.4" text-anchor="end" fill="#333">3</text>
<line x1="53.50" y1="395.75" x2="57.00" y2="395.75" stroke="#231f20" stroke-width="0.9"/>
<text x="51.20" y="398.75" font-size="8.4" text-anchor="end" fill="#333">0</text>
<text x="41.20" y="364.70" font-size="8.4" text-anchor="middle" fill="#333" transform="rotate(-90 41.20 364.70)" textLength="74" lengthAdjust="spacingAndGlyphs">β-Coefficient (95% CI)</text>
<line x1="57.00" y1="395.75" x2="244.00" y2="395.75" stroke="#4d4d4d" stroke-width="1.2" stroke-dasharray="3.2,2.2"/>
<line x1="71.70" y1="359.60" x2="71.70" y2="366.80" stroke="#4a7bab" stroke-width="1.4"/>
<circle cx="71.70" cy="363.00" r="2.5" fill="#1d4b74"/>
<line x1="80.70" y1="359.60" x2="80.70" y2="366.80" stroke="#d24a62" stroke-width="1.4"/>
<circle cx="80.70" cy="363.00" r="2.5" fill="#be1530"/>
<line x1="76.30" y1="416.30" x2="76.30" y2="419.80" stroke="#231f20" stroke-width="0.9"/>
<circle cx="101.10" cy="395.90" r="2.5" fill="#1d4b74"/>
<circle cx="110.10" cy="395.90" r="2.5" fill="#be1530"/>
<line x1="105.70" y1="416.30" x2="105.70" y2="419.80" stroke="#231f20" stroke-width="0.9"/>
<line x1="130.50" y1="333.70" x2="130.50" y2="360.80" stroke="#4a7bab" stroke-width="1.4"/>
<circle cx="130.50" cy="348.30" r="2.5" fill="#1d4b74"/>
<line x1="139.50" y1="336.50" x2="139.50" y2="362.80" stroke="#d24a62" stroke-width="1.4"/>
<circle cx="139.50" cy="348.30" r="2.5" fill="#be1530"/>
<line x1="135.10" y1="416.30" x2="135.10" y2="419.80" stroke="#231f20" stroke-width="0.9"/>
<line x1="159.90" y1="377.00" x2="159.90" y2="391.00" stroke="#4a7bab" stroke-width="1.4"/>
<circle cx="159.90" cy="383.40" r="2.5" fill="#1d4b74"/>
<line x1="168.90" y1="377.50" x2="168.90" y2="390.50" stroke="#d24a62" stroke-width="1.4"/>
<circle cx="168.90" cy="383.40" r="2.5" fill="#be1530"/>
<line x1="164.50" y1="416.30" x2="164.50" y2="419.80" stroke="#231f20" stroke-width="0.9"/>
<circle cx="189.30" cy="395.90" r="2.5" fill="#1d4b74"/>
<circle cx="198.30" cy="395.90" r="2.5" fill="#be1530"/>
<line x1="193.90" y1="416.30" x2="193.90" y2="419.80" stroke="#231f20" stroke-width="0.9"/>
<line x1="218.70" y1="358.80" x2="218.70" y2="391.90" stroke="#4a7bab" stroke-width="1.4"/>
<circle cx="218.70" cy="375.00" r="2.5" fill="#1d4b74"/>
<line x1="227.70" y1="355.90" x2="227.70" y2="389.90" stroke="#d24a62" stroke-width="1.4"/>
<circle cx="227.70" cy="373.30" r="2.5" fill="#be1530"/>
<line x1="223.30" y1="416.30" x2="223.30" y2="419.80" stroke="#231f20" stroke-width="0.9"/>
<text x="76.50" y="425.90" font-size="8.8" text-anchor="end" fill="#333" transform="rotate(-45 76.50 425.90)">per doubling</text>
<text x="105.90" y="425.90" font-size="8.8" text-anchor="end" fill="#333" transform="rotate(-45 105.90 425.90)">&lt; 38 ng/mL</text>
<text x="135.30" y="425.90" font-size="8.8" text-anchor="end" fill="#333" transform="rotate(-45 135.30 425.90)">≥ 38 ng/mL</text>
<text x="164.70" y="425.90" font-size="8.8" text-anchor="end" fill="#333" transform="rotate(-45 164.70 425.90)">per doubling</text>
<text x="194.10" y="425.90" font-size="8.8" text-anchor="end" fill="#333" transform="rotate(-45 194.10 425.90)">&lt; 500 ng/mL</text>
<text x="223.50" y="425.90" font-size="8.8" text-anchor="end" fill="#333" transform="rotate(-45 223.50 425.90)">≥ 500 ng/mL</text>
<line x1="58.00" y1="463.80" x2="135.60" y2="463.80" stroke="#58595b" stroke-width="1.1"/>
<line x1="143.60" y1="463.80" x2="222.70" y2="463.80" stroke="#58595b" stroke-width="1.1"/>
<text x="96.70" y="474.40" font-size="8.8" text-anchor="middle" fill="#333">sGPVI</text>
<text x="183.80" y="474.40" font-size="8.8" text-anchor="middle" fill="#333">D-dimer</text>
<text x="274.60" y="295.90" font-size="11.6" text-anchor="start" font-weight="bold" fill="#000">E</text>
<rect x="327.0" y="303.8" width="143.89999999999998" height="120.89999999999998" fill="none" stroke="#2e2e2e" stroke-width="1.25"/>
<line x1="323.50" y1="424.70" x2="327.00" y2="424.70" stroke="#231f20" stroke-width="0.9"/>
<text x="321.30" y="427.70" font-size="8.5" text-anchor="end" fill="#333" textLength="12.0" lengthAdjust="spacingAndGlyphs">0.0</text>
<line x1="327.00" y1="424.70" x2="327.00" y2="428.20" stroke="#231f20" stroke-width="0.9"/>
<text x="327.00" y="437.90" font-size="8.6" text-anchor="middle" fill="#333" textLength="12.5" lengthAdjust="spacingAndGlyphs">0.0</text>
<line x1="323.50" y1="400.52" x2="327.00" y2="400.52" stroke="#231f20" stroke-width="0.9"/>
<text x="321.30" y="403.52" font-size="8.5" text-anchor="end" fill="#333" textLength="12.0" lengthAdjust="spacingAndGlyphs">0.2</text>
<line x1="355.78" y1="424.70" x2="355.78" y2="428.20" stroke="#231f20" stroke-width="0.9"/>
<text x="355.78" y="437.90" font-size="8.6" text-anchor="middle" fill="#333" textLength="12.5" lengthAdjust="spacingAndGlyphs">0.2</text>
<line x1="323.50" y1="376.34" x2="327.00" y2="376.34" stroke="#231f20" stroke-width="0.9"/>
<text x="321.30" y="379.34" font-size="8.5" text-anchor="end" fill="#333" textLength="12.0" lengthAdjust="spacingAndGlyphs">0.4</text>
<line x1="384.56" y1="424.70" x2="384.56" y2="428.20" stroke="#231f20" stroke-width="0.9"/>
<text x="384.56" y="437.90" font-size="8.6" text-anchor="middle" fill="#333" textLength="12.5" lengthAdjust="spacingAndGlyphs">0.4</text>
<line x1="323.50" y1="352.16" x2="327.00" y2="352.16" stroke="#231f20" stroke-width="0.9"/>
<text x="321.30" y="355.16" font-size="8.5" text-anchor="end" fill="#333" textLength="12.0" lengthAdjust="spacingAndGlyphs">0.6</text>
<line x1="413.34" y1="424.70" x2="413.34" y2="428.20" stroke="#231f20" stroke-width="0.9"/>
<text x="413.34" y="437.90" font-size="8.6" text-anchor="middle" fill="#333" textLength="12.5" lengthAdjust="spacingAndGlyphs">0.6</text>
<line x1="323.50" y1="327.98" x2="327.00" y2="327.98" stroke="#231f20" stroke-width="0.9"/>
<text x="321.30" y="330.98" font-size="8.5" text-anchor="end" fill="#333" textLength="12.0" lengthAdjust="spacingAndGlyphs">0.8</text>
<line x1="442.12" y1="424.70" x2="442.12" y2="428.20" stroke="#231f20" stroke-width="0.9"/>
<text x="442.12" y="437.90" font-size="8.6" text-anchor="middle" fill="#333" textLength="12.5" lengthAdjust="spacingAndGlyphs">0.8</text>
<line x1="323.50" y1="303.80" x2="327.00" y2="303.80" stroke="#231f20" stroke-width="0.9"/>
<text x="321.30" y="306.80" font-size="8.5" text-anchor="end" fill="#333" textLength="12.0" lengthAdjust="spacingAndGlyphs">1.0</text>
<line x1="470.90" y1="424.70" x2="470.90" y2="428.20" stroke="#231f20" stroke-width="0.9"/>
<text x="470.90" y="437.90" font-size="8.6" text-anchor="middle" fill="#333" textLength="12.5" lengthAdjust="spacingAndGlyphs">1.0</text>
<text x="303.60" y="363.50" font-size="8.6" text-anchor="middle" fill="#333" transform="rotate(-90 303.60 363.50)" textLength="35.5" lengthAdjust="spacingAndGlyphs">Sensitivity</text>
<text x="399.00" y="450.40" font-size="9.2" text-anchor="middle" fill="#333" textLength="44.5" lengthAdjust="spacingAndGlyphs">1 - Specificity</text>
<line x1="327.00" y1="424.70" x2="470.90" y2="303.80" stroke="#2a2a2a" stroke-width="1.0" stroke-dasharray="3.2,2.2"/>
<path d="M327.10,424.70 L327.10,423.00 L329.90,423.00 L329.90,421.80 L331.70,421.80 L331.70,420.00 L333.50,420.00 L333.50,416.30 L334.70,416.30 L334.70,410.30 L337.70,410.30 L337.70,409.00 L338.40,406.60 L342.00,406.60 L342.00,404.80 L347.40,404.80 L347.40,401.80 L348.00,396.30 L350.03,396.30 L350.03,394.70 L352.07,394.70 L352.07,393.10 L354.10,393.10 L354.10,391.50 L359.00,390.90 L359.60,381.80 L363.80,381.80 L363.80,379.40 L368.00,379.40 L368.00,378.20 L374.70,378.20 L375.30,369.70 L377.10,369.70 L377.10,367.90 L377.70,363.00 L382.00,362.60 L382.60,357.80 L385.40,357.80 L385.40,356.40 L392.10,356.40 L392.10,354.80 L398.20,354.80 L398.20,354.00 L398.60,349.00 L400.20,349.00 L400.20,346.50 L402.20,346.50 L402.20,343.60 L404.90,343.60 L404.90,341.00 L406.90,341.00 L406.90,336.20 L413.00,336.20 L413.00,334.20 L420.40,334.20 L420.40,332.90 L421.70,332.90 L421.70,330.20 L425.10,330.20 L425.10,328.50 L428.50,328.50 L428.50,326.80 L431.10,326.80 L431.10,323.50 L440.00,323.50 L440.00,322.50 L443.30,322.50 L443.30,321.40 L443.80,318.70 L450.80,318.00 L453.00,318.00 L453.00,316.50 L456.00,316.50 L456.00,314.50 L459.00,314.50 L459.00,312.50 L461.50,312.50 L461.50,310.50 L462.30,310.50 L462.30,305.80 L465.40,305.80 L465.40,304.30 L470.75,304.00" stroke="#2d5d8e" stroke-width="1.15" fill="none"/>
<path d="M327.10,424.70 L327.10,412.10 L329.30,412.10 L329.30,409.70 L334.10,409.70 L334.10,406.50 L337.70,406.50 L337.70,404.80 L339.60,404.80 L339.60,402.00 L340.30,402.00 L340.30,384.20 L344.40,384.20 L344.40,381.00 L348.20,381.00 L348.20,358.60 L354.20,358.60 L354.20,344.00 L357.20,344.00 L357.20,328.30 L361.00,328.30 L361.00,326.00 L366.00,326.00 L366.00,324.30 L369.00,324.30 L369.00,321.50 L372.80,321.50 L372.80,319.50 L378.00,319.50 L378.00,317.50 L384.50,317.50 L384.50,315.50 L392.40,315.50 L392.40,313.60 L402.50,313.60 L402.50,312.00 L408.00,312.00 L408.00,310.00 L415.00,310.00 L415.00,308.50 L425.00,308.50 L425.00,306.50 L432.50,306.50 L432.50,305.30 L447.50,305.30 L447.50,304.30 L470.75,304.30" stroke="#c92a47" stroke-width="1.15" fill="none"/>
<line x1="362.30" y1="406.00" x2="376.80" y2="406.00" stroke="#c92a47" stroke-width="1.3"/>
<line x1="362.30" y1="418.10" x2="376.80" y2="418.10" stroke="#2a5b8c" stroke-width="1.3"/>
<text x="379.60" y="409.60" font-size="8.0" text-anchor="start" fill="#333" textLength="65.3" lengthAdjust="spacingAndGlyphs">sGPVI, AUC = 0.81</text>
<text x="379.60" y="420.40" font-size="8.0" text-anchor="start" fill="#333" textLength="72.5" lengthAdjust="spacingAndGlyphs">D-dimer, AUC = 0.58</text>
<line x1="454.70" y1="406.50" x2="454.70" y2="421.00" stroke="#231f20" stroke-width="0.9"/>
<text x="461.20" y="414.50" font-size="6.5" text-anchor="middle">***</text>
<text x="10.60" y="500.60" font-size="11.6" text-anchor="start" font-weight="bold" fill="#000">F</text>
<text x="110.00" y="527.90" font-size="8.2" text-anchor="end" fill="#333">sGPVI adjusted for D-Dimer,</text>
<text x="110.00" y="537.40" font-size="8.2" text-anchor="end" fill="#333">per doubling</text>
<text x="110.00" y="560.90" font-size="8.2" text-anchor="end" fill="#333">D-Dimer adjusted for sGPVI,</text>
<text x="110.00" y="570.90" font-size="8.2" text-anchor="end" fill="#333">per doubling</text>
<text x="110.00" y="602.15" font-size="8.2" text-anchor="end" fill="#333">Combined</text>
<line x1="116.75" y1="521.00" x2="116.75" y2="537.50" stroke="#58595b" stroke-width="1.2"/>
<line x1="116.75" y1="555.50" x2="116.75" y2="571.25" stroke="#58595b" stroke-width="1.2"/>
<line x1="116.75" y1="592.50" x2="116.75" y2="607.50" stroke="#58595b" stroke-width="1.2"/>
<text x="174.60" y="512.50" font-size="6.6" text-anchor="start" font-weight="bold" fill="#000">Odds ratio (95% CI)</text>
<text x="165.20" y="524.50" font-size="8.4" text-anchor="end" fill="#37598a">Unadjusted</text>
<line x1="183.50" y1="521.50" x2="197.50" y2="521.50" stroke="#4a76a6" stroke-width="1.3"/>
<circle cx="189.40" cy="521.50" r="2.15" fill="#1d4b74"/>
<text x="165.20" y="542.00" font-size="8.4" text-anchor="end" fill="#b9263f">Adjusted</text>
<line x1="181.40" y1="539.00" x2="196.20" y2="539.00" stroke="#cf3d58" stroke-width="1.3"/>
<circle cx="188.00" cy="539.00" r="2.15" fill="#be1530"/>
<text x="165.20" y="559.50" font-size="8.4" text-anchor="end" fill="#37598a">Unadjusted</text>
<line x1="176.00" y1="556.50" x2="183.20" y2="556.50" stroke="#4a76a6" stroke-width="1.3"/>
<circle cx="179.20" cy="556.50" r="2.15" fill="#1d4b74"/>
<text x="165.20" y="576.20" font-size="8.4" text-anchor="end" fill="#b9263f">Adjusted</text>
<line x1="174.60" y1="573.20" x2="180.50" y2="573.20" stroke="#cf3d58" stroke-width="1.3"/>
<circle cx="177.30" cy="573.20" r="2.15" fill="#be1530"/>
<text x="165.20" y="593.70" font-size="8.4" text-anchor="end" fill="#37598a">Unadjusted</text>
<line x1="196.20" y1="590.70" x2="233.00" y2="590.70" stroke="#4a76a6" stroke-width="1.3"/>
<circle cx="210.40" cy="590.70" r="2.15" fill="#1d4b74"/>
<text x="165.20" y="610.70" font-size="8.4" text-anchor="end" fill="#b9263f">Adjusted</text>
<line x1="175.40" y1="607.70" x2="180.50" y2="607.70" stroke="#cf3d58" stroke-width="1.3"/>
<circle cx="178.10" cy="607.70" r="2.15" fill="#be1530"/>
<line x1="173.30" y1="518.00" x2="173.30" y2="625.60" stroke="#333" stroke-width="1.1" stroke-dasharray="2.6,1.6"/>
<line x1="168.40" y1="625.60" x2="242.00" y2="625.60" stroke="#231f20" stroke-width="1.2"/>
<line x1="173.30" y1="625.60" x2="173.30" y2="629.00" stroke="#231f20" stroke-width="0.9"/>
<text x="173.30" y="639.90" font-size="9.4" text-anchor="middle" fill="#333">1</text>
<line x1="183.20" y1="625.60" x2="183.20" y2="629.00" stroke="#231f20" stroke-width="0.9"/>
<text x="183.20" y="639.90" font-size="9.4" text-anchor="middle" fill="#333">3</text>
<line x1="221.00" y1="625.60" x2="221.00" y2="629.00" stroke="#231f20" stroke-width="0.9"/>
<text x="221.00" y="639.90" font-size="9.4" text-anchor="middle" fill="#333">10</text>
<text x="274.20" y="478.60" font-size="11.6" text-anchor="start" font-weight="bold" fill="#000">G</text>
<text x="400.40" y="479.80" font-size="10.2" text-anchor="middle" fill="#2a2a2a">Association with AAA growth</text>
<text x="400.50" y="491.40" font-size="10.2" text-anchor="middle" fill="#2a2a2a">rate (mm/year)</text>
<rect x="327.1" y="496.5" width="146.5" height="96.0" fill="none" stroke="#222" stroke-width="1.3"/>
<line x1="323.50" y1="518.50" x2="327.00" y2="518.50" stroke="#231f20" stroke-width="0.9"/>
<text x="321.00" y="521.50" font-size="8.4" text-anchor="end" fill="#333">2</text>
<line x1="323.50" y1="543.25" x2="327.00" y2="543.25" stroke="#231f20" stroke-width="0.9"/>
<text x="321.00" y="546.25" font-size="8.4" text-anchor="end" fill="#333">1</text>
<line x1="323.50" y1="568.00" x2="327.00" y2="568.00" stroke="#231f20" stroke-width="0.9"/>
<text x="321.00" y="571.00" font-size="8.4" text-anchor="end" fill="#333">0</text>
<line x1="323.50" y1="592.75" x2="327.00" y2="592.75" stroke="#231f20" stroke-width="0.9"/>
<text x="321.00" y="595.75" font-size="8.4" text-anchor="end" fill="#333">−1</text>
<text x="307.60" y="544.40" font-size="8.4" text-anchor="middle" fill="#333" transform="rotate(-90 307.60 544.40)" textLength="73.7" lengthAdjust="spacingAndGlyphs">β-Coefficient (95% CI)</text>
<line x1="327.00" y1="568.30" x2="474.00" y2="568.30" stroke="#4d4d4d" stroke-width="1.2" stroke-dasharray="3.2,2.2"/>
<line x1="346.30" y1="521.25" x2="346.30" y2="533.75" stroke="#4a7bab" stroke-width="1.4"/>
<circle cx="346.30" cy="528.50" r="2.5" fill="#1d4b74"/>
<line x1="356.50" y1="523.25" x2="356.50" y2="533.25" stroke="#d24a62" stroke-width="1.4"/>
<circle cx="356.50" cy="528.50" r="2.5" fill="#be1530"/>
<line x1="351.50" y1="592.50" x2="351.50" y2="596.00" stroke="#231f20" stroke-width="0.9"/>
<line x1="395.60" y1="567.80" x2="395.60" y2="578.30" stroke="#4a7bab" stroke-width="1.4"/>
<circle cx="395.60" cy="573.00" r="2.5" fill="#1d4b74"/>
<line x1="405.80" y1="566.30" x2="405.80" y2="575.20" stroke="#d24a62" stroke-width="1.4"/>
<circle cx="405.80" cy="570.00" r="2.5" fill="#be1530"/>
<line x1="400.80" y1="592.50" x2="400.80" y2="596.00" stroke="#231f20" stroke-width="0.9"/>
<line x1="444.80" y1="525.40" x2="444.80" y2="538.30" stroke="#4a7bab" stroke-width="1.4"/>
<circle cx="444.80" cy="530.60" r="2.5" fill="#1d4b74"/>
<line x1="455.00" y1="523.80" x2="455.00" y2="535.50" stroke="#d24a62" stroke-width="1.4"/>
<circle cx="455.00" cy="530.60" r="2.5" fill="#be1530"/>
<line x1="450.00" y1="592.50" x2="450.00" y2="596.00" stroke="#231f20" stroke-width="0.9"/>
<text x="352.30" y="601.50" font-size="8.8" text-anchor="end" fill="#333" transform="rotate(-45 352.30 601.50)" textLength="100" lengthAdjust="spacingAndGlyphs">sGPVI adjusted for D-dimer,</text>
<text x="359.90" y="609.10" font-size="8.8" text-anchor="end" fill="#333" transform="rotate(-45 359.90 609.10)" textLength="45" lengthAdjust="spacingAndGlyphs">per doubling</text>
<text x="401.60" y="601.50" font-size="8.8" text-anchor="end" fill="#333" transform="rotate(-45 401.60 601.50)" textLength="102" lengthAdjust="spacingAndGlyphs">D-dimer adjusted for sGPVI,</text>
<text x="409.20" y="609.10" font-size="8.8" text-anchor="end" fill="#333" transform="rotate(-45 409.20 609.10)" textLength="45" lengthAdjust="spacingAndGlyphs">per doubling</text>
<text x="450.80" y="601.50" font-size="8.8" text-anchor="end" fill="#333" transform="rotate(-45 450.80 601.50)" textLength="38" lengthAdjust="spacingAndGlyphs">Combined</text>
</svg></body></html>
